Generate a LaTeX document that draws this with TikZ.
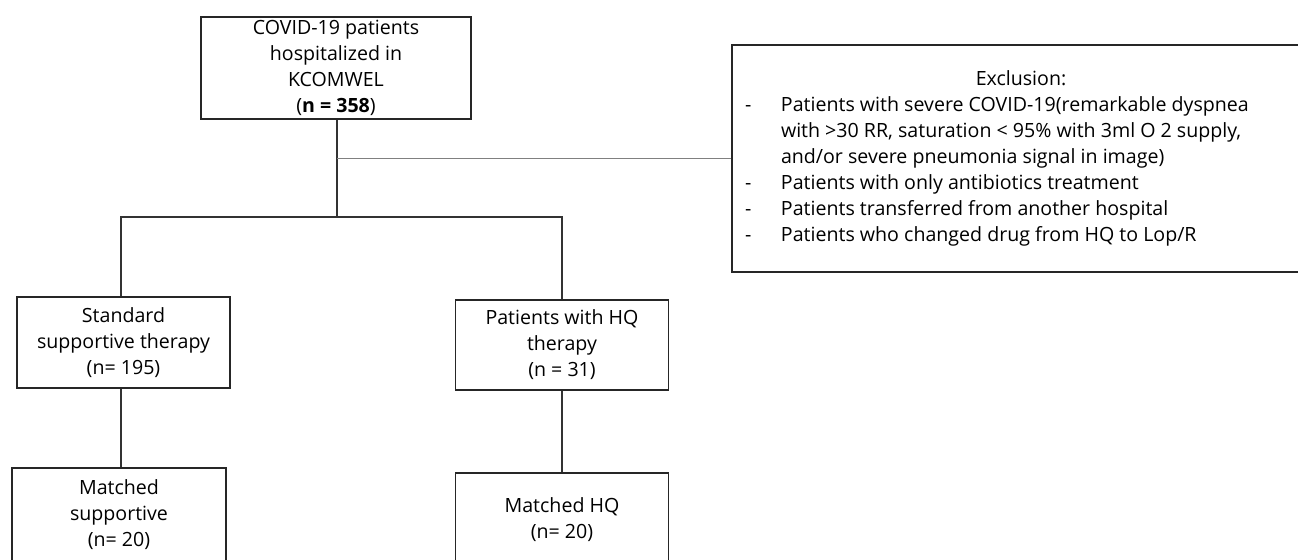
\documentclass[tikz,border=0pt]{standalone}
\usepackage{fontspec}
\setmainfont{Open Sans}
\begin{document}
\begin{tikzpicture}[x=0.5pt,y=-0.5pt,
		box/.style={draw=black!85, line width=0.7pt, align=center, inner sep=0pt,
			font=\fontsize{9.8}{13}\selectfont},
		link/.style={draw=black!80, line width=0.7pt}]
	\useasboundingbox (0,0) rectangle (1298,559);
	\clip (0,0) rectangle (1298,559);
	\node[box, minimum width=135pt, minimum height=51pt] (top) at (336,68)
		{COVID-19 patients\\hospitalized in\\KCOMWEL\\(\textbf{n = 358})};
	\node[box, minimum width=289pt, minimum height=113.5pt] (excl) at (1021,158.5)
		{\begin{tabular}{@{}p{18pt}@{}p{258pt}@{}}
			\multicolumn{2}{@{}c@{}}{Exclusion:}\\
			- & Patients with severe COVID-19(remarkable dyspnea\\
			  & with >30 RR, saturation < 95\% with 3ml O 2 supply,\\
			  & and/or severe pneumonia signal in image)\\
			- & Patients with only antibiotics treatment\\
			- & Patients transferred from another hospital\\
			- & Patients who changed drug from HQ to Lop/R
		\end{tabular}};
	\node[box, minimum width=106.5pt, minimum height=45.5pt] (std) at (123.5,342.5)
		{Standard\\supportive therapy\\(n= 195)};
	\node[box, minimum width=106.5pt, minimum height=45pt] (hq) at (562,345)
		{Patients with HQ\\therapy\\(n = 31)};
	\node[box, minimum width=107pt, minimum height=47pt] (msup) at (119,515)
		{Matched\\supportive\\(n= 20)};
	\node[box, minimum width=106.5pt, minimum height=47pt] (mhq) at (562,520)
		{Matched HQ\\(n= 20)};
	\coordinate (split) at (337,217);
	\draw[link] (top.south -| split) -- (split);
	\draw[link, draw=gray] (excl.west) -- (excl.west -| split);
	\draw[link] (std.north -| 121,0) |- (split) -| (hq.north);
	\draw[link] (std.south -| 121,0) -- (msup.north -| 121,0);
	\draw[link] (hq.south) -- (mhq.north);
\end{tikzpicture}
\end{document}
